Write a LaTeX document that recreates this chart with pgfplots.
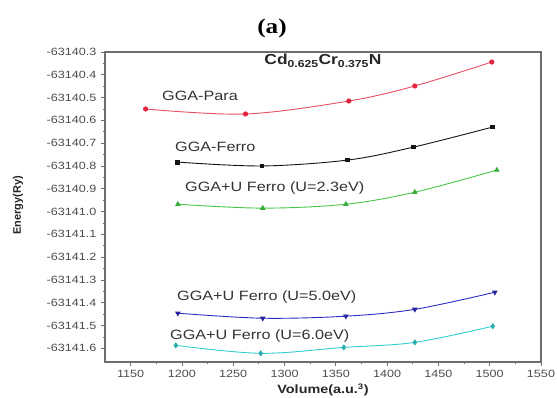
\documentclass[border=0pt]{standalone}
\usepackage{pgfplots}
\pgfplotsset{compat=1.18}
\usepackage{fontspec}
\setmainfont{Liberation Sans}[FakeStretch=1.2]
\newfontfamily\plainsans{Liberation Sans}
\newfontfamily\serifb{Liberation Serif}[FakeStretch=1.2]

\definecolor{cpara}{RGB}{225,35,60}
\definecolor{cferro}{RGB}{20,20,20}
\definecolor{cuA}{RGB}{70,200,70}
\definecolor{cuB}{RGB}{45,45,195}
\definecolor{cuC}{RGB}{50,205,205}
\definecolor{axgray}{RGB}{110,110,110}

% Total energies (Ry) versus cell volume (a.u.^3)
\pgfplotstableread{
V E
1164.6 -63140.550
1262.0 -63140.572
1362.7 -63140.515
1427.0 -63140.449
1502.0 -63140.344
}\para
\pgfplotstableread{
V E
1196.0 -63140.783
1278.0 -63140.800
1361.7 -63140.774
1426.0 -63140.717
1503.0 -63140.629
}\ferro
\pgfplotstableread{
V E
1196.0 -63140.968
1278.8 -63140.985
1359.8 -63140.968
1427.0 -63140.915
1507.0 -63140.818
}\uA
\pgfplotstableread{
V E
1196.0 -63141.446
1278.8 -63141.468
1359.8 -63141.459
1427.0 -63141.429
1505.0 -63141.354
}\uB
\pgfplotstableread{
V E
1194.0 -63141.587
1276.8 -63141.622
1357.8 -63141.596
1427.0 -63141.574
1503.0 -63141.503
}\uC

\begin{document}
\begin{tikzpicture}
\useasboundingbox (-105pt,-36pt) rectangle (452pt,362pt);
\begin{axis}[
  at={(0pt,0pt)}, anchor=south west,
  scale only axis, width=436pt, height=310pt,
  % energies differ only in the decimals: shift them near zero with exact decimal arithmetic
  y coord trafo/.code={\edef\pgfmathresult{\fpeval{(#1)+63140}}},
  y coord inv trafo/.code={\edef\pgfmathresult{\fpeval{(#1)-63140}}},
  xmin=1125, xmax=1550,
  ymin=-63141.66, ymax=-63140.3,
  xtick={1150,1200,1250,1300,1350,1400,1450,1500,1550},
  ytick={-63141.6,-63141.5,-63141.4,-63141.3,-63141.2,-63141.1,-63141.0,-63140.9,-63140.8,-63140.7,-63140.6,-63140.5,-63140.4,-63140.3},
  yticklabels={-63141.6,-63141.5,-63141.4,-63141.3,-63141.2,-63141.1,-63141.0,-63140.9,-63140.8,-63140.7,-63140.6,-63140.5,-63140.4,-63140.3},
  minor x tick num=1, minor y tick num=1,
  scaled ticks=false,
  /pgf/number format/assume math mode=true,
  /pgf/number format/set thousands separator={},
  tick align=outside, tick pos=left,
  major tick length=4pt, minor tick length=2.2pt,
  every tick/.style={axgray, line width=0.8pt},
  axis line style={axgray, line width=1.2pt},
  tick label style={font=\fontsize{10.5}{12}\selectfont, text=black!70},
  xticklabel style={yshift=-1pt},
  yticklabel style={xshift=-1pt},
  xlabel={Volume(a.u.\textsuperscript{3})},
  ylabel={\plainsans\bfseries\fontsize{11}{13}\selectfont Energy(Ry)},
  xlabel style={font=\bfseries\fontsize{12}{14}\selectfont, text=black!85,
    at={(axis description cs:0.5,-0.090)}, anchor=center},
  ylabel style={text=black!85,
    at={(axis description cs:-0.1995,0.506)}, anchor=center},
  title={Cd\textsubscript{0.625}Cr\textsubscript{0.375}N},
  title style={font=\bfseries\fontsize{14.5}{16}\selectfont, text=black!85,
    at={(axis description cs:0.5,0.952)}, anchor=center},
  clip=false,
]
\addplot[cpara!80, line width=0.9pt, smooth, tension=0.55, mark=*,
  mark size=2.1pt, mark options={fill=cpara, draw=cpara}] table[x=V,y=E] {\para};
\addplot[cferro, line width=0.9pt, smooth, tension=0.55, mark=square*,
  mark size=1.9pt, mark options={fill=cferro}] table[x=V,y=E] {\ferro};
\addplot[cuA, line width=0.9pt, smooth, tension=0.55, mark=triangle*,
  mark size=2.4pt, mark options={fill=cuA!85!black, draw=cuA!85!black}] table[x=V,y=E] {\uA};
\addplot[cuB, line width=0.9pt, smooth, tension=0.55, mark=triangle*,
  mark size=2.4pt, mark options={rotate=180, fill=cuB!80!black, draw=cuB!80!black}] table[x=V,y=E] {\uB};
\addplot[cuC, line width=0.9pt, smooth, tension=0.55, mark=diamond*,
  mark size=2.4pt, mark options={fill=cuC!85!black, draw=cuC!85!black}] table[x=V,y=E] {\uC};
\end{axis}
% panel tag and curve labels
\node[font=\serifb\bfseries\fontsize{21}{24}\selectfont] at (167pt,334pt) {(a)};
\begin{scope}[every node/.style={anchor=west, inner sep=0pt,
    font=\fontsize{13.5}{15}\selectfont, text=black!80}]
\node at (57pt,266pt) {GGA-Para};
\node at (70pt,215pt) {GGA-Ferro};
\node at (80pt,174pt) {GGA+U Ferro (U=2.3eV)};
\node at (72pt,65pt) {GGA+U Ferro (U=5.0eV)};
\node at (65pt,26pt) {GGA+U Ferro (U=6.0eV)};
\end{scope}
\end{tikzpicture}
\end{document}
